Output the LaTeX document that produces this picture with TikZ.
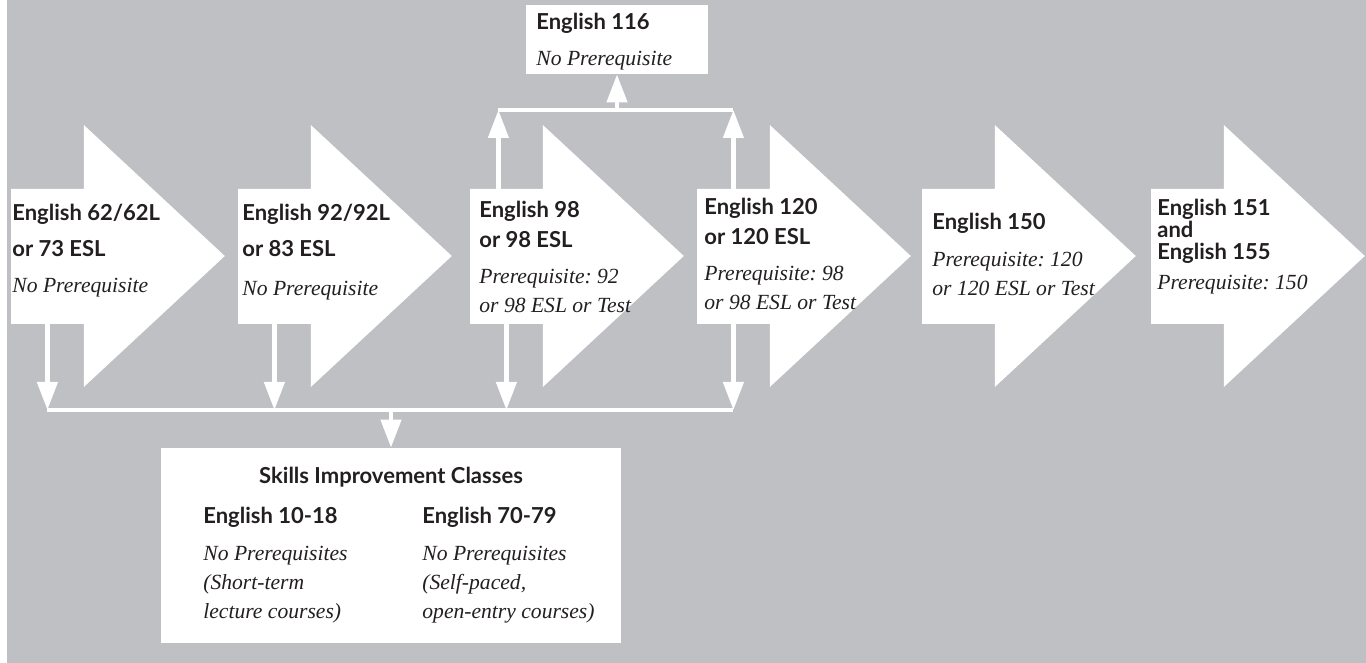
\documentclass[tikz,border=0pt]{standalone}
\usepackage{fontspec}
\usepackage{xcolor}
\definecolor{Back}{RGB}{191,192,196}
\definecolor{Ink}{RGB}{35,31,32}
\newfontfamily\headfont{Lato}
\newfontfamily\notefont{Liberation Serif}
\usepackage{tikz}
\usetikzlibrary{arrows.meta}
\frenchspacing
\tikzstyle{Body}=[inner sep=0pt,anchor=north west,
minimum width=36pt,minimum height=67pt]
\tikzstyle{Box}=[fill=white,inner sep=0pt]
\tikzstyle{Head}=[anchor=north west,inner sep=0pt,align=left,text=Ink,
font=\headfont\bfseries\fontsize{11}{15}\selectfont]
\tikzstyle{HeadWide}=[Head,font=\headfont\bfseries\fontsize{11}{18}\selectfont]
\tikzstyle{HeadTight}=[Head,font=\headfont\bfseries\fontsize{11}{11}\selectfont]
\tikzstyle{Note}=[anchor=north west,inner sep=0pt,align=left,text=Ink,
font=\notefont\itshape\fontsize{10.8}{14.5}\selectfont]
\tikzstyle{Bus}=[draw=white,line width=2.2pt]
\tikzstyle{Link}=[Bus,-{Triangle[width=10pt,length=14pt]}]
\newcommand{\coursearrow}[1]{\fill[white](#1.north west)--(#1.north east)
    --++(0,-64)--++(141,131)--++(-141,131)--(#1.south east)
    --(#1.south west)--cycle;}

\begin{document}
\begin{tikzpicture}[x=0.5pt,y=-0.5pt]
            \fill[white](0,0)rectangle(1366,663);
            \fill[Back](7,0)rectangle(1366,663);
            \useasboundingbox(0,0)rectangle(1366,663);
            % course arrows
            \node[Body](b1)at(11,189){};
            \node[Body](b2)at(238,189){};
            \node[Body](b3)at(470,189){};
            \node[Body](b4)at(697,189){};
            \node[Body](b5)at(922,189){};
            \node[Body](b6)at(1151,189){};
            \coursearrow{b1}
            \coursearrow{b2}
            \coursearrow{b3}
            \coursearrow{b4}
            \coursearrow{b5}
            \coursearrow{b6}
            \node[Box,minimum width=91pt,minimum height=34.5pt](e116)at(617,39.5){};
            \node[Box,minimum width=230pt,minimum height=97.5pt](skills)at(391,545.5){};
            %
            \node[HeadWide](t1)at(12,204){English 62/62L\\or 73 ESL};
            \node[Note](p1)at(12,278){No Prerequisite};
            \node[HeadWide](t2)at(242,204){English 92/92L\\or 83 ESL};
            \node[Note](p2)at(242,281){No Prerequisite};
            \node[Head](t3)at(479,201){English 98\\or 98 ESL};
            \node[Note](p3)at(479,269){Prerequisite: 92\\or 98 ESL or Test};
            \node[Head](t4)at(704,198){English 120\\or 120 ESL};
            \node[Note](p4)at(704,266){Prerequisite: 98\\or 98 ESL or Test};
            \node[Head](t5)at(932,213){English 150};
            \node[Note](p5)at(932,252){Prerequisite: 120\\or 120 ESL or Test};
            \node[HeadTight](t6)at(1157,199){English 151\\and\\English 155};
            \node[Note](p6)at(1157,275){Prerequisite: 150};
            \node[Head](t116)at(536,13){English 116};
            \node[Note](p116)at(536,51){No Prerequisite};
            \node[Head,anchor=north](tskills)at(391,467){Skills Improvement Classes};
            \node[Head](t10)at(203,507){English 10-18};
            \node[Note](p10)at(203,546){No Prerequisites\\(Short-term\\lecture courses)};
            \node[Head](t70)at(422,507){English 70-79};
            \node[Note](p70)at(422,546){No Prerequisites\\(Self-paced,\\open-entry courses)};
            %
            \coordinate(lowbus)at(0,410);
            \coordinate(topbus)at(0,110);
            \draw[Link](b1.south)--(b1.south|-lowbus);
            \draw[Link](b2.south)--(b2.south|-lowbus);
            \draw[Link](b3.south)--(b3.south|-lowbus);
            \draw[Link](b4.south)--(b4.south|-lowbus);
            \draw[Bus](b1.south|-lowbus)--(b4.south|-lowbus);
            \draw[Link](skills.north|-lowbus)--(skills.north);
            \draw[Link]([xshift=-4pt]b3.north)--([xshift=-4pt]b3.north|-topbus);
            \draw[Link](b4.north)--(b4.north|-topbus);
            \draw[Bus]([xshift=-4pt]b3.north|-topbus)--(b4.north|-topbus);
            \draw[Link](e116.south|-topbus)--(e116.south);
        \end{tikzpicture}
\end{document}
